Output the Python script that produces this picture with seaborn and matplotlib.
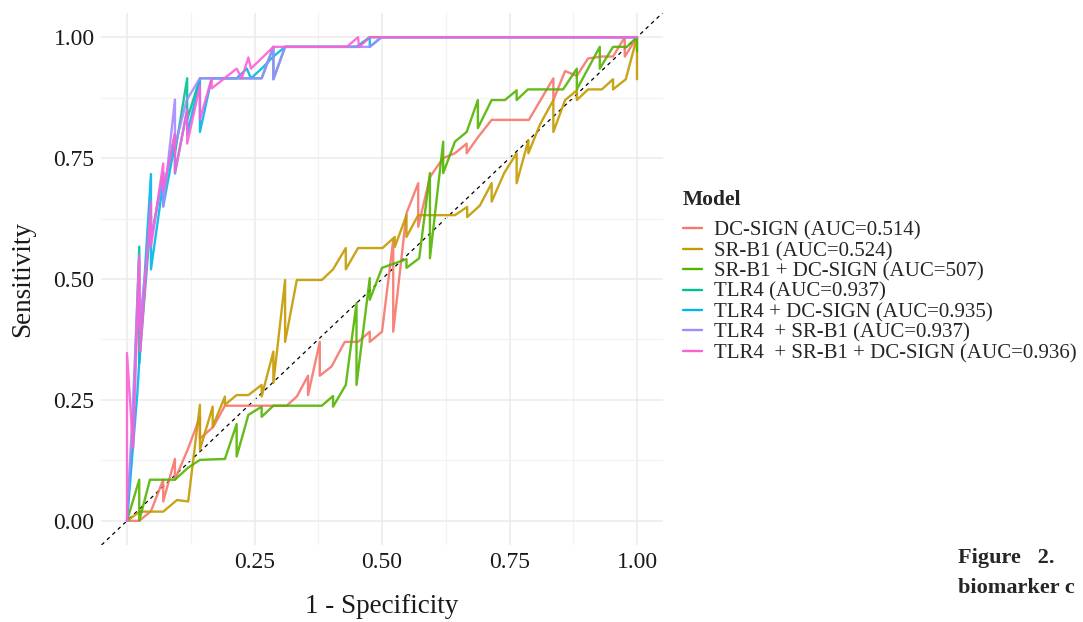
import numpy as np
import pandas as pd
import matplotlib
matplotlib.use("Agg")
import matplotlib.pyplot as plt
import seaborn as sns
from matplotlib.lines import Line2D

# ---------------- data ----------------
models = [
    "DC-SIGN (AUC=0.514)",
    "SR-B1 (AUC=0.524)",
    "SR-B1 + DC-SIGN (AUC=507)",
    "TLR4 (AUC=0.937)",
    "TLR4 + DC-SIGN (AUC=0.935)",
    "TLR4  + SR-B1 (AUC=0.937)",
    "TLR4  + SR-B1 + DC-SIGN (AUC=0.936)",
]
colors = ["#F8766D", "#C49A00", "#53B400", "#00C094", "#00B6EB", "#A58AFF", "#FB61D7"]

dc_fpr = [0, 0.024, 0.047, 0.071, 0.071, 0.094, 0.094, 0.12, 0.143, 0.143, 0.169, 0.192, 0.313,
          0.333, 0.355, 0.355, 0.378, 0.378, 0.401, 0.427, 0.453, 0.476, 0.476, 0.5, 0.522, 0.522,
          0.548, 0.571, 0.571, 0.594, 0.62, 0.643, 0.666, 0.666, 0.688, 0.715, 0.788, 0.836, 0.836,
          0.859, 0.882, 0.904, 0.931, 0.953, 0.976, 0.976, 1.0]
dc_tpr = [0, 0.0, 0.02, 0.085, 0.04, 0.128, 0.085, 0.15, 0.215, 0.17, 0.194, 0.238, 0.238,
          0.257, 0.30, 0.26, 0.37, 0.30, 0.319, 0.37, 0.37, 0.391, 0.37, 0.391, 0.58, 0.391,
          0.636, 0.698, 0.608, 0.711, 0.75, 0.76, 0.78, 0.76, 0.793, 0.829, 0.829, 0.915, 0.87,
          0.93, 0.92, 0.956, 0.96, 0.96, 1.0, 0.96, 1.0]

sr_fpr = [0, 0.025, 0.071, 0.098, 0.12, 0.143, 0.143, 0.168, 0.168, 0.192, 0.192, 0.215, 0.238,
          0.264, 0.264, 0.287, 0.287, 0.31, 0.31, 0.333, 0.382, 0.404, 0.429, 0.429, 0.453, 0.501,
          0.525, 0.525, 0.548, 0.548, 0.571, 0.643, 0.667, 0.667, 0.692, 0.715, 0.715, 0.74, 0.764,
          0.764, 0.787, 0.787, 0.81, 0.836, 0.836, 0.859, 0.882, 0.882, 0.904, 0.931, 0.953, 0.953,
          0.978, 1.0, 1.0]
sr_tpr = [0, 0.019, 0.019, 0.043, 0.04, 0.24, 0.147, 0.236, 0.195, 0.257, 0.24, 0.26, 0.26,
          0.281, 0.257, 0.35, 0.285, 0.498, 0.37, 0.498, 0.498, 0.52, 0.564, 0.52, 0.564, 0.564,
          0.587, 0.566, 0.632, 0.587, 0.632, 0.632, 0.649, 0.628, 0.652, 0.698, 0.66, 0.72, 0.76,
          0.698, 0.787, 0.76, 0.82, 0.87, 0.804, 0.87, 0.89, 0.87, 0.892, 0.892, 0.913, 0.892,
          0.913, 1.0, 0.913]

srdc_fpr = [0, 0.024, 0.024, 0.045, 0.094, 0.12, 0.143, 0.192, 0.215, 0.215, 0.238, 0.264,
            0.264, 0.287, 0.382, 0.404, 0.404, 0.429, 0.45, 0.45, 0.476, 0.476, 0.5, 0.548, 0.548,
            0.573, 0.594, 0.594, 0.62, 0.62, 0.643, 0.666, 0.688, 0.688, 0.715, 0.741, 0.764, 0.764,
            0.786, 0.855, 0.882, 0.882, 0.927, 0.927, 0.953, 0.98, 1.0, 1.0]
srdc_tpr = [0, 0.085, 0.0, 0.085, 0.085, 0.11, 0.126, 0.128, 0.2, 0.133, 0.219, 0.236,
            0.215, 0.238, 0.238, 0.258, 0.236, 0.281, 0.45, 0.281, 0.502, 0.457, 0.523, 0.541, 0.523,
            0.543, 0.719, 0.543, 0.784, 0.719, 0.784, 0.804, 0.87, 0.812, 0.87, 0.87, 0.89, 0.87,
            0.892, 0.892, 0.935, 0.892, 0.98, 0.935, 0.98, 0.98, 1.0, 0.97]

tlr_fpr = [0, 0.012, 0.024, 0.024, 0.047, 0.047, 0.071, 0.071, 0.094, 0.094, 0.118, 0.118,
           0.143, 0.169, 0.264, 0.287, 0.287, 0.31, 0.45, 0.476, 1.0]
tlr_tpr = [0, 0.2, 0.567, 0.326, 0.63, 0.58, 0.72, 0.68, 0.80, 0.76, 0.915, 0.83,
           0.915, 0.915, 0.915, 0.98, 0.913, 0.98, 0.98, 1.0, 1.0]

tdc_fpr = [0, 0.02, 0.047, 0.047, 0.071, 0.071, 0.094, 0.094, 0.118, 0.118, 0.143, 0.143,
           0.166, 0.215, 0.235, 0.243, 0.264, 0.287, 0.31, 0.453, 0.476, 0.476, 0.499, 1.0]
tdc_tpr = [0, 0.26, 0.717, 0.52, 0.70, 0.65, 0.78, 0.718, 0.85, 0.80, 0.91, 0.804,
           0.915, 0.915, 0.935, 0.915, 0.935, 0.96, 0.98, 0.98, 1.0, 0.98, 1.0, 1.0]

tsr_fpr = [0, 0.012, 0.024, 0.024, 0.047, 0.047, 0.071, 0.071, 0.094, 0.094, 0.117, 0.143,
           0.169, 0.264, 0.287, 0.287, 0.31, 0.476, 0.499, 1.0]
tsr_tpr = [0, 0.25, 0.55, 0.40, 0.62, 0.58, 0.72, 0.65, 0.871, 0.774, 0.87, 0.915,
           0.915, 0.915, 0.98, 0.913, 0.98, 0.98, 1.0, 1.0]

tall_fpr = [0, 0.0, 0.012, 0.024, 0.026, 0.047, 0.047, 0.071, 0.071, 0.094, 0.094, 0.118,
            0.118, 0.143, 0.143, 0.166, 0.166, 0.215, 0.225, 0.238, 0.243, 0.287, 0.431, 0.453,
            0.455, 0.476, 1.0]
tall_tpr = [0, 0.347, 0.15, 0.543, 0.35, 0.66, 0.567, 0.739, 0.684, 0.80, 0.72, 0.85,
            0.78, 0.90, 0.83, 0.915, 0.894, 0.935, 0.915, 0.958, 0.935, 0.98, 0.98, 1.0,
            0.98, 1.0, 1.0]

fprs = [dc_fpr, sr_fpr, srdc_fpr, tlr_fpr, tdc_fpr, tsr_fpr, tall_fpr]
tprs = [dc_tpr, sr_tpr, srdc_tpr, tlr_tpr, tdc_tpr, tsr_tpr, tall_tpr]

x_ticks = [0.0, 0.25, 0.50, 0.75, 1.00]
x_ticklabels = ["", "0.25", "0.50", "0.75", "1.00"]
y_ticks = [0.0, 0.25, 0.50, 0.75, 1.00]
y_ticklabels = ["0.00", "0.25", "0.50", "0.75", "1.00"]

frames = []
for m, f, t in zip(models, fprs, tprs):
    frames.append(pd.DataFrame({"fpr": f, "tpr": t, "Model": m}))
df = pd.concat(frames, ignore_index=True)

# ---------------- plot ----------------
sns.set_theme(style="whitegrid")
plt.rcParams["font.family"] = ["Liberation Serif", "DejaVu Serif"]

fig = plt.figure(figsize=(10.83, 6.22), dpi=100)
ax = fig.add_axes([101.5 / 1083, 1 - 545 / 622, (662.5 - 101.5) / 1083, (545 - 13) / 622])

sns.lineplot(data=df, x="fpr", y="tpr", hue="Model", hue_order=models, palette=colors,
             sort=False, estimator=None, units="Model", linewidth=1.7, alpha=0.9, ax=ax,
             legend=False)

ax.plot([-0.05, 1.05], [-0.05, 1.05], linestyle=(0, (3, 3)), color="black", linewidth=0.9, zorder=0.5)

ax.set_xlim(-0.05, 1.05)
ax.set_ylim(-0.05, 1.05)
ax.set_xticks(x_ticks)
ax.set_xticklabels(x_ticklabels)
ax.set_yticks(y_ticks)
ax.set_yticklabels(y_ticklabels)
ax.set_xticks([0.125, 0.375, 0.625, 0.875], minor=True)
ax.set_yticks([0.125, 0.375, 0.625, 0.875], minor=True)
ax.grid(which="major", color="#EBEBEB", linewidth=1.1)
ax.grid(which="minor", color="#F2F2F2", linewidth=0.9)
ax.set_facecolor("white")
for s in ax.spines.values():
    s.set_visible(False)
ax.tick_params(axis="both", which="both", length=0, labelsize=17, colors="#1a1a1a", pad=5)
ax.set_xlabel("1 - Specificity", fontsize=19.5, labelpad=15, color="#1a1a1a")
ax.set_ylabel("Sensitivity", fontsize=19.5, labelpad=13, color="#1a1a1a")

handles = [Line2D([0], [0], color=c, lw=1.7) for c in colors]
leg = fig.legend(handles, models, loc="upper left", bbox_to_anchor=(683 / 1083, 1 - 190 / 622),
                 frameon=False, fontsize=15, title="Model", handlelength=0.9, handletextpad=0.6,
                 labelspacing=0.04, borderpad=0, borderaxespad=0)
leg.get_title().set_fontweight("bold")
leg.get_title().set_fontsize(15.5)
leg._legend_box.align = "left"
leg._legend_box.sep = 8

fig.text(958 / 1083, 1 - 558 / 622, "Figure   2.", fontsize=16, fontweight="bold", va="center", ha="left")
fig.text(958 / 1083, 1 - 588 / 622, "biomarker c", fontsize=16, fontweight="bold", va="center", ha="left")

fig.savefig("out.png", dpi=100, facecolor="white")
